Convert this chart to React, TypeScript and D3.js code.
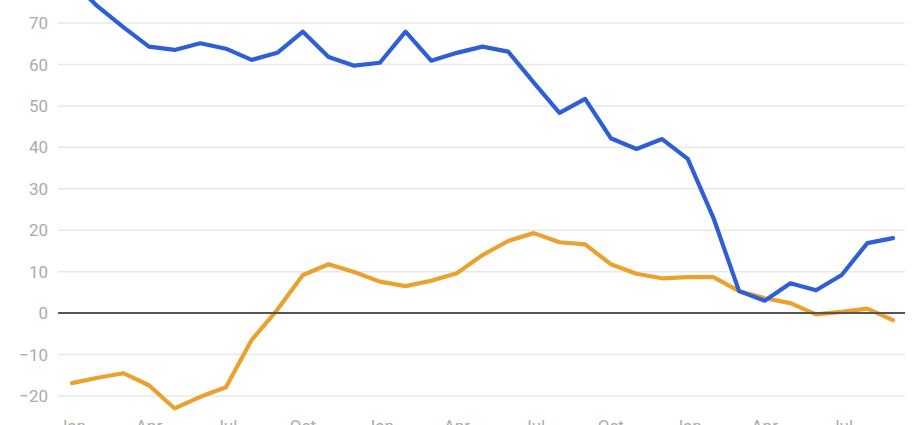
import React from "react";
import * as d3 from "d3";

const months = [
  "Jan","Feb","Mar","Apr","May","Jun","Jul","Aug","Sep","Oct","Nov","Dec",
  "Jan","Feb","Mar","Apr","May","Jun","Jul","Aug","Sep","Oct","Nov","Dec",
  "Jan","Feb","Mar","Apr","May","Jun","Jul","Aug","Sep",
];
const blueSeries = [
  80, 74, 69, 64.3, 63.5, 65.1, 63.8, 61.1, 62.8, 67.9, 61.8, 59.7,
  60.4, 67.9, 60.9, 62.8, 64.3, 63.1, 55.6, 48.3, 51.7, 42.2, 39.6, 42.0,
  37.2, 23, 5.3, 3.0, 7.2, 5.5, 9.2, 16.9, 18.1,
];
const orangeSeries = [
  -16.9, -15.6, -14.5, -17.4, -23, -20.2, -17.9, -6.5, 0.8, 9.2, 11.8, 9.9,
  7.6, 6.5, 7.8, 9.6, 14, 17.4, 19.3, 17.1, 16.6, 11.8, 9.5, 8.4,
  8.7, 8.7, 5.3, 3.6, 2.4, -0.3, 0.3, 1.1, -1.7,
];
const yTicks = [-20, -10, 0, 10, 20, 30, 40, 50, 60, 70];
const xTickEvery = 3;

export default function App() {
  const width = 920;
  const height = 425;
  const x = d3.scaleLinear().domain([0, months.length - 1]).range([72, 893]);
  const y = d3.scaleLinear().domain([-20, 70]).range([396, 23]);
  const line = d3
    .line<number>()
    .x((_, i) => x(i))
    .y((d) => y(d))
    .curve(d3.curveLinear);

  const gridLeft = 58;
  const gridRight = 905;

  return (
    <div style={{ position: "fixed", left: 0, top: 0, width, height, background: "#fff" }}>
      <svg width={width} height={height} style={{ display: "block", fontFamily: "Roboto, 'Noto Sans', sans-serif" }}>
        <rect width={width} height={height} fill="#fff" />
        {yTicks.map((t) => (
          <g key={t}>
            {t !== 0 && (
              <line x1={gridLeft} x2={gridRight} y1={y(t)} y2={y(t)} stroke="#e8e8e8" strokeWidth={1.5} />
            )}
            <text
              x={48}
              y={y(t)}
              dy="0.36em"
              textAnchor="end"
              fontSize={17}
              fill="#ababab"
            >
              {t < 0 ? "\u2212" + Math.abs(t) : String(t)}
            </text>
          </g>
        ))}
        {months.map((m, i) =>
          i % xTickEvery === 0 ? (
            <text key={i} x={x(i)} y={432} textAnchor="middle" fontSize={17} fill="#ababab">
              {m}
            </text>
          ) : null
        )}
        <path d={line(orangeSeries) || ""} fill="none" stroke="#EBA12E" strokeWidth={4.2} strokeLinejoin="round" strokeLinecap="round" />
        <line x1={gridLeft} x2={gridRight} y1={y(0)} y2={y(0)} stroke="#555" strokeWidth={2} />
        <path d={line(blueSeries) || ""} fill="none" stroke="#2F5FD6" strokeWidth={4.2} strokeLinejoin="round" strokeLinecap="round" />
      </svg>
    </div>
  );
}
